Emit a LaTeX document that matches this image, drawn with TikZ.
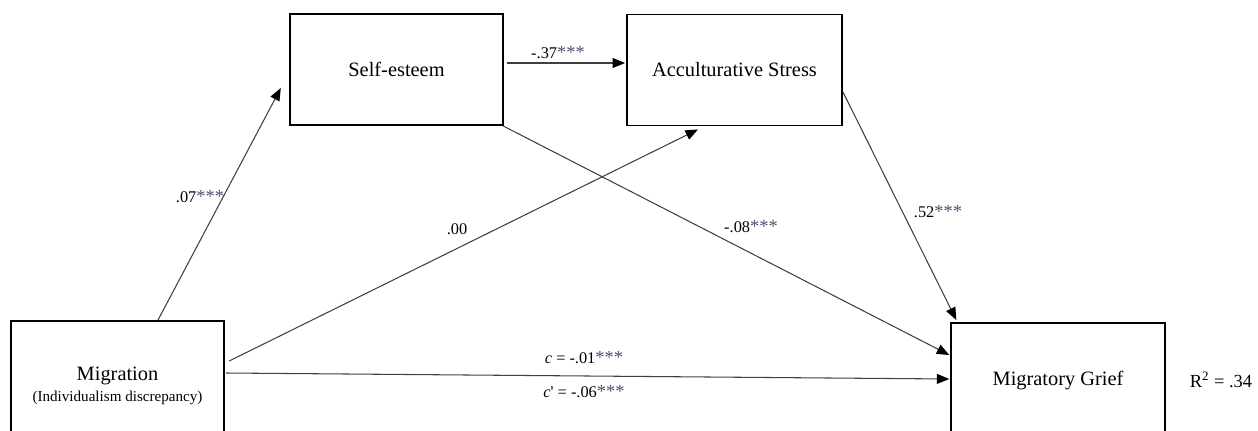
\documentclass[tikz,border=0pt]{standalone}
\usepackage{fontspec}
\setmainfont{Liberation Serif}
\usetikzlibrary{arrows.meta,calc}
\definecolor{starcol}{RGB}{85,72,110}
\newcommand{\stars}{\textcolor{starcol}{\fontsize{10.5}{11}\selectfont ***}}
\begin{document}
\begin{tikzpicture}[x=0.02cm, y=-0.02cm, >={Triangle[length=0.25cm,width=0.2cm,color=black]}, font=\fontsize{9.3}{11}\selectfont]
    \tikzset{box/.style={draw, line width=1.1pt, inner sep=0pt, minimum width=4.27cm, minimum height=2.22cm, align=center, font=\fontsize{11.6}{14}\selectfont},
        link/.style={->, line width=0.6pt, black!75}}
    \useasboundingbox (0,0) rectangle (1258,430);
    \clip (0,0) rectangle (1258,430);
    \node[box] (self) at (396.5,69.5) {Self-esteem};
    \node[box, minimum width=4.3cm] (acc) at (734.5,70) {Acculturative Stress};
    \node[box, minimum height=2.6cm] (mig) at (117.5,386) {Migration\\[-2pt]{\fontsize{8.6}{10}\selectfont (Individualism discrepancy)}};
    \node[box, minimum height=2.3cm] (grief) at (1058,380.5) {Migratory Grief};
    \node (rsq) at (1221,380) {\fontsize{10.5}{12}\selectfont R\textsuperscript{2} = .34};
    % paths
    \draw[link] ($(mig.north)+(40.5,0)$) -- ($(self.west)+(-8,18.5)$);
    \draw[link] ($(self.east)+(3,-6.5)$) -- ($(acc.west)+(-1,-7)$);
    \draw[link] ($(mig.east)+(4,-25)$) -- ($(acc.south)+(-36.5,3)$);
    \draw[link] ($(self.south east)+(-1,0)$) -- ($(grief.west)+(-1,-25.5)$);
    \draw[link] ($(acc.east)+(0,22)$) -- ($(grief.north west)+(6,-2)$);
    \draw[link] ($(mig.east)+(1,-13)$) -- ($(grief.west)+(-1,-1.5)$);
    % coefficients
    \node (a1) at (200,197) {.07\stars};
    \node (d1) at (558,53) {-.37\stars};
    \node (a2) at (457,229) {.00};
    \node (b1) at (751,227) {-.08\stars};
    \node (b2) at (938,212) {.52\stars};
    \node (tot) at (584,358) {\textit{c} = -.01\stars};
    \node (dir) at (584,392) {\textit{c}\textquotesingle{} = -.06\stars};
\end{tikzpicture}
\end{document}
